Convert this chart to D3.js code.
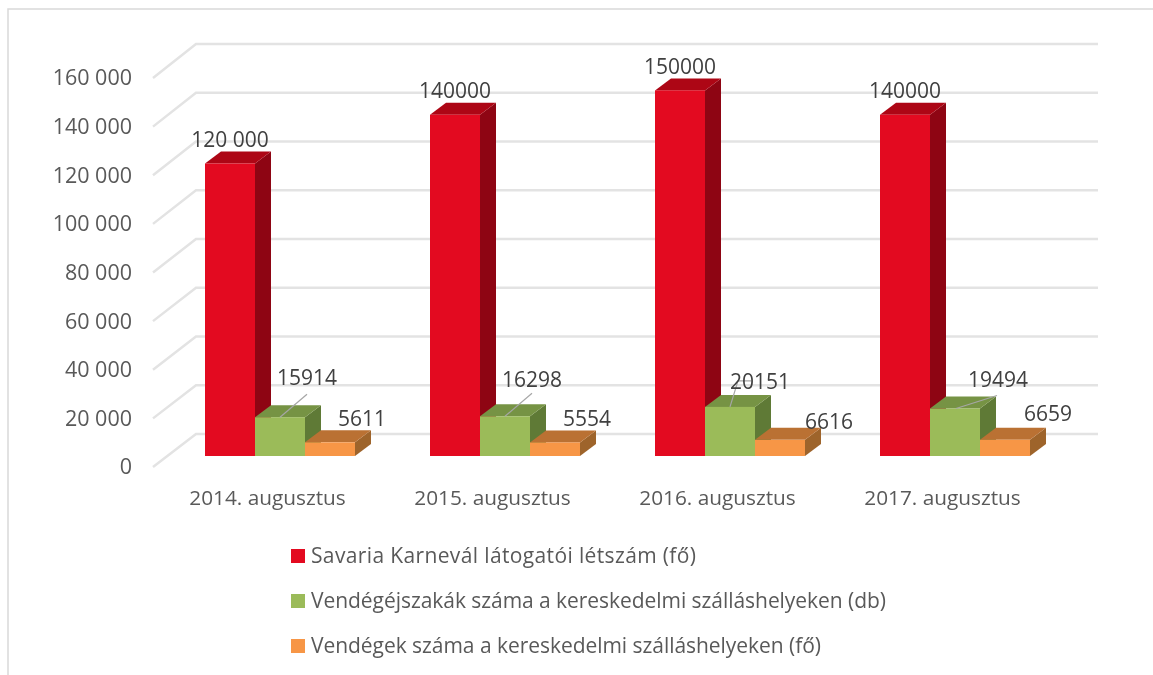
<!DOCTYPE html>
<html>
<head>
<meta charset="utf-8">
<script src="https://cdn.jsdelivr.net/npm/d3@7"></script>
<style>
  body { margin: 0; background: #fff; }
  svg { filter: blur(0.4px); }
  text { font-family: "Open Sans", sans-serif; fill: #595959; }
  .value { fill: #404040; }
  .domain { display: none; }
</style>
</head>
<body>
<div id="chart"></div>
<script>
// Data
var categories = ["2014. augusztus", "2015. augusztus", "2016. augusztus", "2017. augusztus"];
var seriesNames = [
  "Savaria Karnevál látogatói létszám (fő)",
  "Vendégéjszakák száma a kereskedelmi szálláshelyeken (db)",
  "Vendégek száma a kereskedelmi szálláshelyeken (fő)"
];
var visitors = [120000, 140000, 150000, 140000];
var nights = [15914, 16298, 20151, 19494];
var guests = [5611, 5554, 6616, 6659];
var visitorLabels = ["120 000", "140000", "150000", "140000"];
var yTicks = [0, 20000, 40000, 60000, 80000, 100000, 120000, 140000, 160000];

// Colours: front, top, side
var colors = [
  ["#e30a20", "#ad0615", "#8e0513"],
  ["#9bbb59", "#769344", "#5f7a36"],
  ["#f79646", "#ba7133", "#9e642b"]
];

// Setting up canvas
var svgWidth = 1153;
var svgHeight = 675;
var svg = d3.select("#chart")
  .append("svg")
  .attr("width", svgWidth)
  .attr("height", svgHeight)
  .style("display", "block");

// frame around the chart
svg.append("path")
  .attr("d", "M8,675V9H1153")
  .attr("fill", "none")
  .attr("stroke", "#d9d9d9")
  .attr("stroke-width", 1.5);

// scales: back wall, front edge of the floor, front face of the bars
var yBack = d3.scaleLinear().domain([0, 160000]).range([434, 44]);
var yFront = d3.scaleLinear().domain([0, 160000]).range([467, 78]);
var yBar = d3.scaleLinear().domain([0, 160000]).range([456, 66]);
var xLabel = d3.scaleBand().domain(categories).range([155, 1055]);
var xGroup = d3.scaleBand().domain(categories).range([167.5, 1067.5])
  .paddingInner(1 / 3).paddingOuter(1 / 6);
var xBar = d3.scaleBand().domain([0, 1, 2]).range([0, xGroup.bandwidth()]);

// gridlines
svg.selectAll(".grid")
  .data(yTicks)
  .enter()
  .append("path")
  .attr("class", "grid")
  .attr("d", d => `M153,${yFront(d)}L196,${yBack(d)}H1098`)
  .attr("fill", "none")
  .attr("stroke", "#e3e3e3")
  .attr("stroke-width", 2.5);

// axes
var left = d3.axisLeft(yFront)
  .tickValues(yTicks)
  .tickSize(0)
  .tickPadding(21)
  .tickFormat(d => d3.format(",")(d).replace(/,/g, " "));
svg.append("g")
  .attr("transform", "translate(153, 0)")
  .call(left)
  .selectAll("text")
  .attr("font-size", 21.5);

var bottom = d3.axisBottom(xLabel).tickSize(0).tickPadding(0);
svg.append("g")
  .attr("transform", "translate(0, 490)")
  .call(bottom)
  .selectAll("text")
  .attr("font-size", 20.8);

// bars
var depthX = 16;
var depthY = 12;
var series = [visitors, nights, guests];

categories.forEach(function(cat, i) {
  series.forEach(function(values, s) {
    var x0 = xGroup(cat) + xBar(s);
    var x1 = x0 + xBar.bandwidth();
    var top = yBar(values[i]);
    var base = yBar(0);
    var g = svg.append("g");
    g.append("path")
      .attr("d", `M${x1},${top}l${depthX},${-depthY}V${base - depthY}l${-depthX},${depthY}Z`)
      .attr("fill", colors[s][2]);
    g.append("path")
      .attr("d", `M${x0},${top}l${depthX},${-depthY}H${x1 + depthX}l${-depthX},${depthY}Z`)
      .attr("fill", colors[s][1]);
    g.append("rect")
      .attr("x", x0)
      .attr("y", top)
      .attr("width", x1 - x0)
      .attr("height", base - top)
      .attr("fill", colors[s][0]);
  });
});

// data labels, offsets from the top left of the front face
var nightLabelPos = [[52, -40], [52, -37], [55, -25], [68, -29]];
var guestLabelPos = [[57, -24], [57, -24], [74, -18], [68, -26]];
var leaderPoints = [
  [[25, 0], [52, -23]],
  [[25, 0], [52, -23]],
  [[25, 0], [33, -26], [46, -26]],
  [[26, 0], [67, -13]]
];

categories.forEach(function(cat, i) {
  var redX = xGroup(cat) + xBar(0) + xBar.bandwidth() / 2;
  var greenX = xGroup(cat) + xBar(1);
  var orangeX = xGroup(cat) + xBar(2);

  svg.append("path")
    .attr("d", d3.line()(leaderPoints[i].map(p => [greenX + p[0], yBar(nights[i]) + p[1]])))
    .attr("fill", "none")
    .attr("stroke", "#a6a6a6")
    .attr("stroke-width", 1.2);

  svg.append("text")
    .attr("class", "value")
    .text(visitorLabels[i])
    .attr("x", redX)
    .attr("y", yBar(visitors[i]) - 24)
    .attr("dy", "0.35em")
    .attr("text-anchor", "middle")
    .attr("font-size", 21);

  svg.append("text")
    .attr("class", "value")
    .text(nights[i])
    .attr("x", greenX + nightLabelPos[i][0])
    .attr("y", yBar(nights[i]) + nightLabelPos[i][1])
    .attr("dy", "0.35em")
    .attr("text-anchor", "middle")
    .attr("font-size", 21);

  svg.append("text")
    .attr("class", "value")
    .text(guests[i])
    .attr("x", orangeX + guestLabelPos[i][0])
    .attr("y", yBar(guests[i]) + guestLabelPos[i][1])
    .attr("dy", "0.35em")
    .attr("text-anchor", "middle")
    .attr("font-size", 21);
});

// legend
var legendWidths = [385, 575, 510];
var legend = svg.selectAll(".legend")
  .data(seriesNames)
  .enter()
  .append("g")
  .attr("class", "legend")
  .attr("transform", (d, i) => `translate(291, ${556 + i * 45})`);

legend.append("rect")
  .attr("y", -7)
  .attr("width", 14)
  .attr("height", 14)
  .attr("fill", (d, i) => colors[i][0]);

legend.append("text")
  .text(d => d)
  .attr("x", 20)
  .attr("dy", "0.35em")
  .attr("textLength", (d, i) => legendWidths[i])
  .attr("font-size", 21);
</script>
</body>
</html>
